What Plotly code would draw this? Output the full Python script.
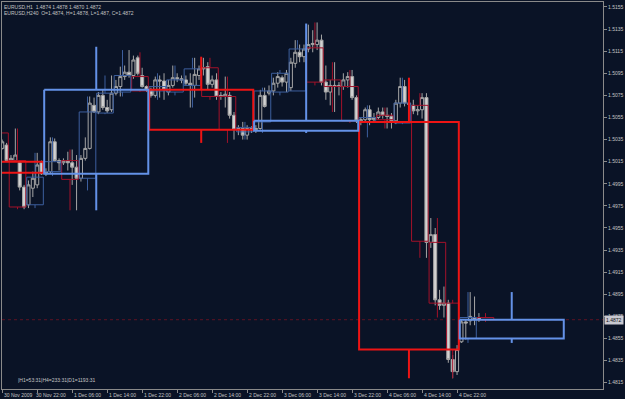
import plotly.graph_objects as go

# ---------------- data ----------------
bar_index = list(range(-8, 102))  # hourly bars, 0 = 30 Nov 22:00

h1_open = [1.5027, 1.5030, 1.5016, 1.5016, 1.5014, 1.4992, 1.4976, 1.4991, 1.4994, 1.5014,
           1.5004, 1.5006, 1.5033, 1.5016, 1.5014, 1.5016, 1.5014, 1.5010, 1.5000, 1.5018,
           1.5027, 1.5066, 1.5060, 1.5075, 1.5064, 1.5062, 1.5077, 1.5083, 1.5092, 1.5096,
           1.5093, 1.5109, 1.5093, 1.5083, 1.5080, 1.5075, 1.5089, 1.5088, 1.5078, 1.5084,
           1.5091, 1.5090, 1.5089, 1.5086, 1.5084, 1.5093, 1.5099, 1.5101, 1.5085, 1.5089,
           1.5074, 1.5074, 1.5075, 1.5057, 1.5044, 1.5045, 1.5039, 1.5045, 1.5044, 1.5045,
           1.5075, 1.5077, 1.5079, 1.5086, 1.5091, 1.5087, 1.5082, 1.5104, 1.5114, 1.5110,
           1.5117, 1.5121, 1.5121, 1.5125, 1.5087, 1.5078, 1.5084, 1.5084, 1.5083, 1.5089,
           1.5092, 1.5073, 1.5052, 1.5053, 1.5062, 1.5053, 1.5055, 1.5060, 1.5057, 1.5056,
           1.5052, 1.5068, 1.5083, 1.5068, 1.5066, 1.5061, 1.5062, 1.5073, 1.4942, 1.4949,
           1.4890, 1.4885, 1.4887, 1.4836, 1.4825, 1.4852, 1.4870, 1.4871, 1.4872, 1.4874]
h1_high = [1.5035, 1.5032, 1.5021, 1.5045, 1.5016, 1.4994, 1.4998, 1.5006, 1.5023, 1.5016,
           1.5009, 1.5037, 1.5036, 1.5018, 1.5018, 1.5024, 1.5026, 1.5021, 1.5021, 1.5037,
           1.5074, 1.5073, 1.5078, 1.5080, 1.5071, 1.5093, 1.5089, 1.5101, 1.5102, 1.5116,
           1.5111, 1.5111, 1.5100, 1.5084, 1.5082, 1.5092, 1.5093, 1.5095, 1.5089, 1.5102,
           1.5095, 1.5093, 1.5093, 1.5095, 1.5109, 1.5102, 1.5109, 1.5105, 1.5093, 1.5095,
           1.5078, 1.5092, 1.5078, 1.5060, 1.5048, 1.5051, 1.5048, 1.5047, 1.5048, 1.5080,
           1.5082, 1.5084, 1.5091, 1.5096, 1.5093, 1.5098, 1.5109, 1.5125, 1.5121, 1.5121,
           1.5139, 1.5134, 1.5141, 1.5130, 1.5102, 1.5089, 1.5105, 1.5087, 1.5095, 1.5096,
           1.5098, 1.5075, 1.5055, 1.5064, 1.5066, 1.5059, 1.5064, 1.5064, 1.5064, 1.5059,
           1.5071, 1.5091, 1.5089, 1.5075, 1.5071, 1.5066, 1.5077, 1.5077, 1.4964, 1.4955,
           1.4899, 1.4902, 1.4890, 1.4840, 1.4849, 1.4872, 1.4872, 1.4897, 1.4893, 1.4878]
h1_low = [1.5026, 1.5015, 1.5015, 1.5015, 1.4989, 1.4972, 1.4973, 1.4983, 1.4991, 1.5003,
          1.5002, 1.5004, 1.5015, 1.5007, 1.5012, 1.5007, 1.4994, 1.4971, 1.4997, 1.5016,
          1.5026, 1.5059, 1.5058, 1.5062, 1.5059, 1.5060, 1.5075, 1.5074, 1.5089, 1.5091,
          1.5090, 1.5093, 1.5082, 1.5078, 1.5073, 1.5073, 1.5073, 1.5071, 1.5075, 1.5082,
          1.5087, 1.5086, 1.5084, 1.5064, 1.5073, 1.5089, 1.5093, 1.5080, 1.5082, 1.5071,
          1.5071, 1.5064, 1.5054, 1.5035, 1.5039, 1.5035, 1.5035, 1.5041, 1.5041, 1.5044,
          1.5064, 1.5075, 1.5075, 1.5082, 1.5083, 1.5078, 1.5079, 1.5100, 1.5105, 1.5105,
          1.5114, 1.5114, 1.5116, 1.5084, 1.5071, 1.5066, 1.5060, 1.5075, 1.5080, 1.5082,
          1.5071, 1.5050, 1.5048, 1.5050, 1.5048, 1.5050, 1.5053, 1.5054, 1.5045, 1.5045,
          1.5049, 1.5064, 1.5065, 1.5064, 1.5058, 1.5057, 1.5054, 1.4928, 1.4937, 1.4885,
          1.4881, 1.4874, 1.4833, 1.4819, 1.4822, 1.4851, 1.4854, 1.4867, 1.4867, 1.4870]
h1_close = [1.5033, 1.5016, 1.5018, 1.5021, 1.4992, 1.4974, 1.4994, 1.5000, 1.5012, 1.5004,
            1.5006, 1.5033, 1.5016, 1.5014, 1.5016, 1.5014, 1.5010, 1.5000, 1.5018, 1.5027,
            1.5068, 1.5060, 1.5075, 1.5064, 1.5061, 1.5077, 1.5083, 1.5092, 1.5096, 1.5093,
            1.5107, 1.5095, 1.5083, 1.5080, 1.5075, 1.5089, 1.5088, 1.5080, 1.5084, 1.5091,
            1.5090, 1.5089, 1.5086, 1.5084, 1.5094, 1.5099, 1.5100, 1.5085, 1.5089, 1.5074,
            1.5075, 1.5076, 1.5057, 1.5044, 1.5045, 1.5039, 1.5045, 1.5044, 1.5045, 1.5075,
            1.5065, 1.5079, 1.5086, 1.5092, 1.5087, 1.5095, 1.5105, 1.5114, 1.5110, 1.5117,
            1.5121, 1.5122, 1.5125, 1.5087, 1.5078, 1.5084, 1.5083, 1.5083, 1.5089, 1.5092,
            1.5073, 1.5052, 1.5053, 1.5062, 1.5053, 1.5055, 1.5060, 1.5057, 1.5056, 1.5052,
            1.5068, 1.5083, 1.5068, 1.5067, 1.5061, 1.5062, 1.5073, 1.4942, 1.4949, 1.4890,
            1.4885, 1.4887, 1.4836, 1.4825, 1.4845, 1.4870, 1.4869, 1.4875, 1.4874, 1.4872]

h4_start = [-10, -6, -2, 2, 6, 10, 14, 18, 22, 26, 30, 34, 38, 42, 46, 50, 54, 58, 62, 66,
            70, 74, 78, 82, 86, 90, 94, 97, 101]
h4_end = [-7, -3, 1, 5, 9, 13, 17, 21, 25, 29, 33, 37, 41, 45, 49, 53, 57, 61, 65, 69,
          73, 77, 81, 85, 89, 93, 96, 100, 104]
h4_open = [1.5041, 1.5016, 1.4976, 1.5006, 1.5016, 1.5000, 1.5059, 1.5078, 1.5092, 1.5079,
           1.5078, 1.5084, 1.5100, 1.5074, 1.5042, 1.5051, 1.5078, 1.5079, 1.5118, 1.5089,
           1.5083, 1.5051, 1.5057, 1.5050, 1.5066, 1.4942, 1.4887, 1.4855, 1.4874]
h4_high = [1.5045, 1.5045, 1.5023, 1.5037, 1.5026, 1.5074, 1.5093, 1.5116, 1.5114, 1.5095,
           1.5102, 1.5109, 1.5109, 1.5092, 1.5051, 1.5082, 1.5098, 1.5125, 1.5141, 1.5105,
           1.5098, 1.5066, 1.5064, 1.5091, 1.5077, 1.4964, 1.4890, 1.4897, 1.4878]
h4_low = [1.5014, 1.4972, 1.4973, 1.5002, 1.4971, 1.4989, 1.5058, 1.5074, 1.5078, 1.5071,
          1.5075, 1.5064, 1.5071, 1.5032, 1.5035, 1.5041, 1.5075, 1.5079, 1.5084, 1.5060,
          1.5050, 1.5037, 1.5045, 1.5049, 1.4928, 1.4874, 1.4819, 1.4851, 1.4870]
h4_close = [1.5015, 1.4974, 1.5001, 1.5015, 1.4999, 1.5060, 1.5077, 1.5093, 1.5079, 1.5083,
            1.5089, 1.5099, 1.5074, 1.5044, 1.5046, 1.5079, 1.5095, 1.5117, 1.5087, 1.5083,
            1.5052, 1.5055, 1.5053, 1.5068, 1.4943, 1.4887, 1.4845, 1.4874, 1.4872]

d1_start = [-22, 2, 26, 50, 74, 97]
d1_end = [1, 25, 49, 73, 96, 120]
d1_open = [1.5015, 1.5004, 1.5080, 1.5043, 1.5051, 1.4855]
d1_high = [1.5045, 1.5119, 1.5110, 1.5140, 1.5091, 1.4897]
d1_low = [1.4972, 1.4971, 1.5032, 1.5041, 1.4819, 1.4851]
d1_close = [1.5005, 1.5080, 1.5044, 1.5052, 1.4845, 1.4872]

x_tick_index = [-8, 0, 8, 16, 24, 32, 40, 48, 56, 64, 72, 80, 88, 96]
x_tick_text = ["30 Nov 2009", "30 Nov 22:00", "1 Dec 06:00", "1 Dec 14:00", "1 Dec 22:00",
               "2 Dec 06:00", "2 Dec 14:00", "2 Dec 22:00", "3 Dec 06:00", "3 Dec 14:00",
               "3 Dec 22:00", "4 Dec 06:00", "4 Dec 14:00", "4 Dec 22:00"]
y_tick_values = [1.4815, 1.4835, 1.4855, 1.4875, 1.4895, 1.4915, 1.4935, 1.4955, 1.4975,
                 1.4995, 1.5015, 1.5035, 1.5055, 1.5075, 1.5095, 1.5115, 1.5135, 1.5155]

# ---------------- styling ----------------
BG = "#0a1326"
GRID = "#8a8a8a"
TXT = "#c4c4c4"
FONT = "Liberation Sans, Arial, sans-serif"
HALF = 0.4


def box_paths(starts, ends, o, h, l, c, want_bull):
    xs, ys = [], []
    for s, e, oo, hh, ll, cc in zip(starts, ends, o, h, l, c):
        if (cc >= oo) != want_bull:
            continue
        x0, x1 = s - HALF, e + HALF
        top, bot = max(oo, cc), min(oo, cc)
        xs += [x0, x1, x1, x0, x0, None]
        ys += [top, top, bot, bot, top, None]
        xm = (s + e) / 2
        if hh > top:
            xs += [xm, xm, None]
            ys += [hh, top, None]
        if ll < bot:
            xs += [xm, xm, None]
            ys += [bot, ll, None]
    return xs, ys


fig = go.Figure()

fig.add_trace(go.Candlestick(
    x=bar_index, open=h1_open, high=h1_high, low=h1_low, close=h1_close,
    increasing=dict(fillcolor=BG, line=dict(color="#a6a6a6", width=1)),
    decreasing=dict(fillcolor="#d2d2d2", line=dict(color="#a6a6a6", width=1)),
    whiskerwidth=0, showlegend=False, hoverinfo="skip"))

for bull, col in [(False, "#a3122a"), (True, "#3d5f9e")]:
    xs, ys = box_paths(h4_start, h4_end, h4_open, h4_high, h4_low, h4_close, bull)
    fig.add_trace(go.Scatter(x=xs, y=ys, mode="lines", line=dict(color=col, width=1),
                             showlegend=False, hoverinfo="skip"))

for bull, col in [(False, "#ee1414"), (True, "#6492e8")]:
    xs, ys = box_paths(d1_start, d1_end, d1_open, d1_high, d1_low, d1_close, bull)
    fig.add_trace(go.Scatter(x=xs, y=ys, mode="lines", line=dict(color=col, width=2),
                             showlegend=False, hoverinfo="skip"))

last_close = h1_close[-1]
fig.add_shape(type="line", xref="paper", x0=0, x1=1, yref="y", y0=last_close, y1=last_close,
              line=dict(color="#5e1424", width=1, dash="dot"), layer="below")

annotations = []
for xi, tx in zip(x_tick_index, x_tick_text):
    annotations.append(dict(x=xi, xref="x", y=0, yref="paper", text=tx, showarrow=False,
                            xanchor="left", yanchor="top", xshift=(-3 if xi == 0 else 0),
                            yshift=-1, font=dict(family=FONT, size=5, color=TXT)))
annotations.append(dict(x=1, xref="paper", y=last_close, yref="y", text=f"{last_close:.4f}",
                        showarrow=False, xanchor="left", yanchor="middle", xshift=1,
                        bgcolor="#c8c8d0", borderpad=1,
                        font=dict(family=FONT, size=5, color="#101010")))
annotations.append(dict(x=0, xref="paper", y=1, yref="paper",
                        text="EURUSD,H1  1.4874 1.4878 1.4870 1.4872", showarrow=False,
                        xanchor="left", yanchor="top", xshift=0, yshift=0,
                        font=dict(family=FONT, size=5, color=TXT)))
annotations.append(dict(x=0, xref="paper", y=1, yref="paper",
                        text="EURUSD,H240  O=1.4874, H=1.4878, L=1.487, C=1.4872", showarrow=False,
                        xanchor="left", yanchor="top", xshift=0, yshift=-6,
                        font=dict(family=FONT, size=5, color=TXT)))
annotations.append(dict(x=0, xref="paper", y=0, yref="paper",
                        text="|H1=53:31|H4=233:31|D1=1193:31", showarrow=False,
                        xanchor="left", yanchor="middle", xshift=14, yshift=9,
                        font=dict(family=FONT, size=5, color=TXT)))

fig.update_layout(
    width=625, height=399, autosize=False,
    margin=dict(l=2, r=22, t=2, b=10, pad=0),
    paper_bgcolor=BG, plot_bgcolor=BG,
    boxgap=0.3, boxgroupgap=0,
    showlegend=False,
    annotations=annotations,
    xaxis=dict(range=[-8.05, 129.37], showgrid=False, zeroline=False,
               showline=True, mirror=True, linecolor=GRID, linewidth=1,
               tickvals=x_tick_index, ticks="outside", ticklen=3, tickcolor=GRID,
               showticklabels=False, rangeslider=dict(visible=False), fixedrange=True),
    yaxis=dict(range=[1.48093, 1.51595], side="right", showgrid=False, zeroline=False,
               showline=True, mirror=True, linecolor=GRID, linewidth=1,
               tickvals=y_tick_values, ticktext=[f"{v:.4f}" for v in y_tick_values],
               ticks="outside", ticklen=3, tickcolor=GRID,
               tickfont=dict(family=FONT, size=5, color=TXT), automargin=False),
)

fig.write_html("out.html")
